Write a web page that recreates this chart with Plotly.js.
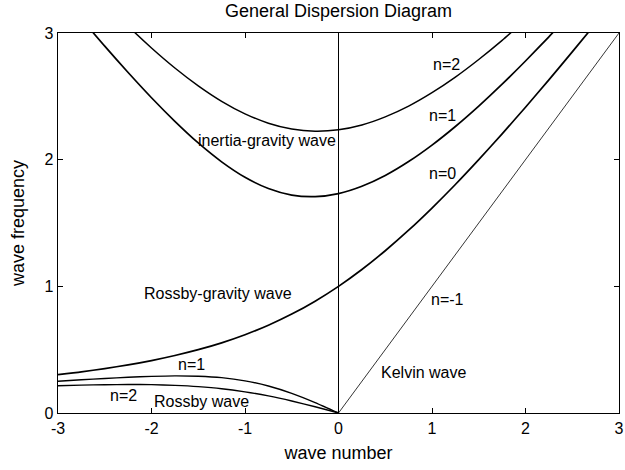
<!DOCTYPE html>
<html><head><meta charset="utf-8">
<script src="https://cdn.plot.ly/plotly-3.0.1.min.js"></script>
<style>html,body{margin:0;padding:0;background:#fff}</style>
</head><body><div id="chart" style="width:625px;height:470px"></div>
<script>
// wave numbers and frequencies
const kRG = [-3,-2.75,-2.5,-2.25,-2,-1.75,-1.5,-1.25,-1,-0.75,-0.5,-0.25,0,0.25,0.5,0.75,1,1.25,1.5,1.75,2,2.25,2.5,2.75];
const wRG = [0.303,0.325,0.351,0.380,0.414,0.454,0.500,0.554,0.618,0.693,0.781,0.883,1.000,1.133,1.281,1.443,1.618,1.804,2.000,2.204,2.414,2.630,2.851,3.075];

const kIG1 = [-2.75,-2.5,-2.25,-2,-1.75,-1.5,-1.25,-1,-0.75,-0.5,-0.25,0,0.25,0.5,0.75,1,1.25,1.5,1.75,2,2.25,2.5];
const wIG1 = [3.111,2.896,2.688,2.489,2.303,2.132,1.983,1.861,1.772,1.720,1.708,1.732,1.790,1.875,1.985,2.115,2.262,2.423,2.596,2.779,2.970,3.169];

const kIG2 = [-2.5,-2.25,-2,-1.75,-1.5,-1.25,-1,-0.75,-0.5,-0.25,0,0.25,0.5,0.75,1,1.25,1.5,1.75,2];
const wIG2 = [3.237,3.054,2.882,2.724,2.583,2.461,2.362,2.288,2.242,2.225,2.236,2.274,2.338,2.423,2.529,2.652,2.791,2.942,3.105];

const kR = [-3,-2.75,-2.5,-2.25,-2,-1.75,-1.5,-1.25,-1,-0.75,-0.5,-0.25,0];
const wR1 = [0.251,0.262,0.272,0.282,0.289,0.293,0.290,0.279,0.254,0.213,0.155,0.082,0];
const wR2 = [0.215,0.220,0.223,0.225,0.224,0.218,0.208,0.192,0.167,0.135,0.095,0.049,0];

const kK = [0,3];
const wK = [0,3];

const labels = [
  {text:'inertia-gravity wave', x:-0.76, y:2.155},
  {text:'n=2', x:1.15, y:2.75},
  {text:'n=1', x:1.11, y:2.35},
  {text:'n=0', x:1.11, y:1.89},
  {text:'Rossby-gravity wave', x:-1.29, y:0.947},
  {text:'n=1', x:-1.57, y:0.38},
  {text:'n=2', x:-2.30, y:0.142},
  {text:'Rossby wave', x:-1.47, y:0.089},
  {text:'n=-1', x:1.17, y:0.90},
  {text:'Kelvin wave', x:0.91, y:0.318}
];

const line = (x,y,w)=>({x:x,y:y,type:'scatter',mode:'lines',line:{color:'#000',width:w,shape:'spline',smoothing:0.6},hoverinfo:'skip',showlegend:false});
const traces = [
  line(kRG,wRG,1.7), line(kIG1,wIG1,1.7), line(kIG2,wIG2,1.5),
  line(kR,wR1,1.4), line(kR,wR2,1.4),
  {x:kK,y:wK,type:'scatter',mode:'lines',line:{color:'#000',width:0.8},hoverinfo:'skip',showlegend:false}
];

const font = {family:'"Liberation Sans", Arial, sans-serif', color:'#000'};
const layout = {
  width:625, height:470,
  margin:{l:58, r:6, t:33, b:57},
  paper_bgcolor:'#fff', plot_bgcolor:'#fff',
  font:Object.assign({size:16}, font),
  title:{text:'General Dispersion Diagram', xref:'paper', x:0.5, xanchor:'center', yref:'container', y:0.99, yanchor:'top', font:Object.assign({size:18}, font)},
  xaxis:{range:[-3,3], tickvals:[-3,-2,-1,0,1,2,3], ticktext:['-3','-2','-1','0','1','2','3'],
    ticks:'inside', ticklen:5, tickcolor:'#000', mirror:'ticks', showline:true, linecolor:'#000', linewidth:1.4,
    showgrid:false, zeroline:true, zerolinecolor:'#000', zerolinewidth:1,
    tickfont:Object.assign({size:16}, font),
    title:{text:'wave number', font:Object.assign({size:18}, font), standoff:11}},
  yaxis:{range:[0,3], tickvals:[0,1,2,3], ticktext:['0','1','2','3'],
    ticks:'inside', ticklen:5, tickcolor:'#000', mirror:'ticks', showline:true, linecolor:'#000', linewidth:1.4,
    showgrid:false, zeroline:false,
    tickfont:Object.assign({size:16}, font),
    title:{text:'wave frequency', font:Object.assign({size:18}, font), standoff:15}},
  annotations: labels.map(l=>({text:l.text, x:l.x, y:l.y, xref:'x', yref:'y', showarrow:false, font:Object.assign({size:16}, font)}))
};
Plotly.newPlot('chart', traces, layout, {staticPlot:true, displayModeBar:false});
</script></body></html>
